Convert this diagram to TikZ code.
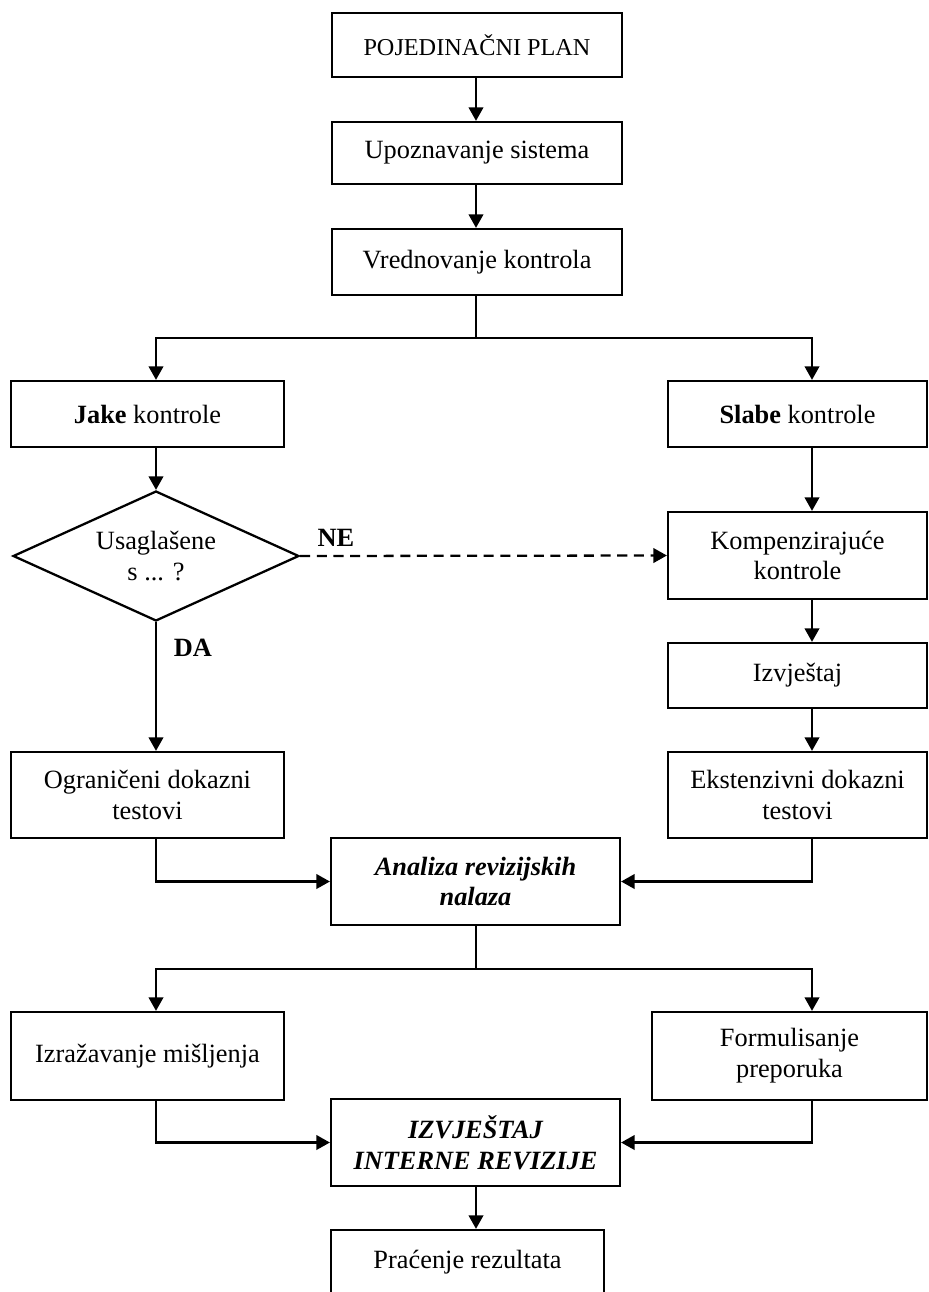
\documentclass[tikz,border=0pt]{standalone}
\usepackage{fontspec}
\setmainfont{Liberation Serif}
\usetikzlibrary{arrows.meta,shapes.geometric}
\begin{document}
\begin{tikzpicture}[x=0.02cm,y=-0.02cm,
		font=\fontsize{15}{17.5}\selectfont,
		box/.style={draw,line width=1.3pt,align=center,inner sep=2pt,minimum width=5.8cm,minimum height=1.3cm},
		arr/.style={line width=1.3pt,-{Triangle[length=0.27cm,width=0.29cm]}},
		lbl/.style={font=\fontsize{15}{17.5}\selectfont\bfseries,inner sep=0pt}]
		\useasboundingbox (0,0) rectangle (929,1292);
		\clip (0,0) rectangle (929,1292);
		\coordinate (lcol) at (156,0);
		\coordinate (rcol) at (812,0);
		\coordinate (ccol) at (476,0);
		\coordinate (splitA) at (476,338);
		\coordinate (splitB) at (476,969);
		\node[box,minimum height=1.28cm,font=\fontsize{13.8}{16}\selectfont] (plan) at (477,45) {POJEDINA\v{C}NI PLAN};
		\node[box,minimum height=1.24cm] (upoz) at (477,153) {Upoznavanje sistema};
		\node[box,minimum height=1.32cm] (vred) at (477,262) {Vrednovanje kontrola};
		\node[box,minimum width=5.46cm,minimum height=1.32cm] (jake) at (147.5,414) {\textbf{Jake} kontrole};
		\node[box,minimum width=5.18cm,minimum height=1.32cm] (slabe) at (797.5,414) {\textbf{Slabe} kontrole};
		\node[draw,diamond,line width=1.3pt,align=center,inner sep=0pt,aspect=2.2,minimum width=5.72cm,minimum height=2.6cm] (diam) at (156,556) {Usagla\v{s}ene\\s ... ?};
		\node[box,minimum width=5.18cm,minimum height=1.74cm] (komp) at (797.5,555.5) {Kompenziraju\'ce\\kontrole};
		\node[box,minimum width=5.18cm,minimum height=1.3cm] (izvj) at (797.5,675.5) {Izvje\v{s}taj};
		\node[box,minimum width=5.18cm,minimum height=1.72cm] (eksten) at (797.5,795) {Ekstenzivni dokazni\\testovi};
		\node[box,minimum width=5.46cm,minimum height=1.72cm] (ogran) at (147.5,795) {Ograni\v{c}eni dokazni\\testovi};
		\node[box,minimum width=5.78cm,minimum height=1.74cm,font=\fontsize{15}{17.5}\selectfont\bfseries\itshape] (analiza) at (475.5,881.5) {Analiza revizijskih\\nalaza};
		\node[box,minimum width=5.46cm,minimum height=1.76cm] (izraz) at (147.5,1056) {Izra\v{z}avanje mi\v{s}ljenja};
		\node[box,minimum width=5.5cm,minimum height=1.76cm] (formul) at (789.5,1056) {Formulisanje\\preporuka};
		\node[box,minimum width=5.78cm,minimum height=1.74cm,font=\fontsize{15}{17.5}\selectfont\bfseries\itshape] (izvrev) at (475.5,1142.5) {IZVJE\v{S}TAJ\\INTERNE REVIZIJE};
		\node[box,minimum width=5.46cm,minimum height=1.28cm] (pracenje) at (467.5,1262) {Pra\'cenje rezultata};
		\node[lbl] (ne) at (336,538) {NE};
		\node[lbl] (da) at (193,648) {DA};
		\draw[arr] (plan.south -| ccol) -- (upoz.north -| ccol);
		\draw[arr] (upoz.south -| ccol) -- (vred.north -| ccol);
		\draw[arr] (vred.south -| ccol) -- (splitA) -| (lcol |- jake.north);
		\draw[arr] (splitA) -| (rcol |- slabe.north);
		\draw[arr] (lcol |- jake.south) -- (diam.north);
		\draw[arr] (diam.south) -- (lcol |- ogran.north);
		\draw[arr,dash pattern=on 5.7pt off 3.8pt] (diam.east) -- (komp.west);
		\draw[arr] (rcol |- slabe.south) -- (rcol |- komp.north);
		\draw[arr] (rcol |- komp.south) -- (rcol |- izvj.north);
		\draw[arr] (rcol |- izvj.south) -- (rcol |- eksten.north);
		\draw[arr] (lcol |- ogran.south) |- (analiza.west);
		\draw[arr] (rcol |- eksten.south) |- (analiza.east);
		\draw[arr] (analiza.south -| ccol) -- (splitB) -| (lcol |- izraz.north);
		\draw[arr] (splitB) -| (rcol |- formul.north);
		\draw[arr] (lcol |- izraz.south) |- (izvrev.west);
		\draw[arr] (rcol |- formul.south) |- (izvrev.east);
		\draw[arr] (izvrev.south -| ccol) -- (pracenje.north -| ccol);
	\end{tikzpicture}
\end{document}
